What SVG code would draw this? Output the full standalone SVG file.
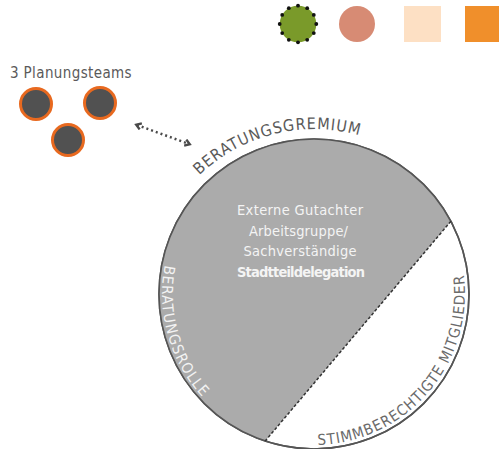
<svg xmlns="http://www.w3.org/2000/svg" width="499" height="449" viewBox="0 0 499 449">
<style>
.t{font-family:"DejaVu Sans Condensed","DejaVu Sans",sans-serif;font-stretch:condensed}
.team{fill:#515151;stroke:#e8691f;stroke-width:3}
.dot{fill:#111}
.lbl{fill:#5a5a5a;font-size:15px;letter-spacing:0.4px}
.inner{fill:#f4f4f4;font-size:14.5px;text-anchor:middle}
</style>
<defs>
<marker id="ah" viewBox="0 0 10 10" refX="6" refY="5" markerWidth="3.2" markerHeight="3.2" orient="auto-start-reverse" markerUnits="strokeWidth">
<path d="M1,1 L7,5 L1,9" fill="none" stroke="#4a4a4a" stroke-width="3"/>
</marker>
<path id="pGrem" d="M199.4,175.3 A166,166 0 0 1 362.2,136.2"/>
<path id="pRolle" d="M164.8,265.0 A152,152 0 0 0 204.7,399.6"/>
<path id="pMit" d="M317.9,444.9 A151,151 0 0 0 463.5,273.0"/>
</defs>
<rect width="499" height="449" fill="#fff"/>
<g id="legend">
<circle cx="298" cy="24" r="18.3" fill="#7a9a2a"/>
<g class="dot">
<circle cx="298" cy="5.7" r="1.9"/><circle cx="307.2" cy="8.2" r="1.9"/><circle cx="313.8" cy="14.9" r="1.9"/><circle cx="316.3" cy="24" r="1.9"/><circle cx="313.8" cy="33.1" r="1.9"/><circle cx="307.2" cy="39.8" r="1.9"/><circle cx="298" cy="42.3" r="1.9"/><circle cx="288.8" cy="39.8" r="1.9"/><circle cx="282.2" cy="33.1" r="1.9"/><circle cx="279.7" cy="24" r="1.9"/><circle cx="282.2" cy="14.9" r="1.9"/><circle cx="288.8" cy="8.2" r="1.9"/>
</g>
<circle cx="357" cy="24" r="18" fill="#d78b74"/>
<rect x="404" y="6" width="37" height="36" fill="#fde0c4"/>
<rect x="465" y="6" width="40" height="36" fill="#f08f2b"/>
</g>
<g id="planungsteams">
<text class="t lbl" x="10" y="78" textLength="122">3 Planungsteams</text>
<g id="team1"><circle class="team" cx="36" cy="104" r="15.5"/></g>
<g id="team2"><circle class="team" cx="100" cy="103" r="15.5"/></g>
<g id="team3"><circle class="team" cx="68" cy="140" r="15.5"/></g>
</g>
<g id="connectors">
<line x1="137" y1="125" x2="189" y2="144" stroke="#4a4a4a" stroke-width="2.5" stroke-dasharray="2 3" marker-start="url(#ah)" marker-end="url(#ah)"/>
</g>
<g id="beratungsgremium">
<circle cx="314" cy="294" r="155" fill="#fff" stroke="#555" stroke-width="1.6"/>
<path d="M450.9,221.2 A155,155 0 1 0 265.1,441.1 Z" fill="#ababab"/>
<circle cx="314" cy="294" r="155" fill="none" stroke="#555" stroke-width="1.6"/>
<line x1="450.9" y1="221.2" x2="265.1" y2="441.1" stroke="#333" stroke-width="1.5" stroke-dasharray="3 2"/>
<text class="t" font-size="16" fill="#5a5a5a"><textPath href="#pGrem" textLength="172" lengthAdjust="spacing">BERATUNGSGREMIUM</textPath></text>
<text class="t" font-size="15" fill="#f2f2f2"><textPath href="#pRolle" textLength="142" lengthAdjust="spacing">BERATUNGSROLLE</textPath></text>
<text class="t" font-size="15" fill="#6a6a6a"><textPath href="#pMit" textLength="252" lengthAdjust="spacing">STIMMBERECHTIGTE MITGLIEDER</textPath></text>
<text class="t inner" x="300" y="215" textLength="126">Externe Gutachter</text>
<text class="t inner" x="298.5" y="236" textLength="99">Arbeitsgruppe/</text>
<text class="t inner" x="300" y="256" textLength="113">Sachverständige</text>
<text class="t inner" x="301" y="277" font-weight="bold" font-size="13.5" textLength="128">Stadtteildelegation</text>
</g>
</svg>
